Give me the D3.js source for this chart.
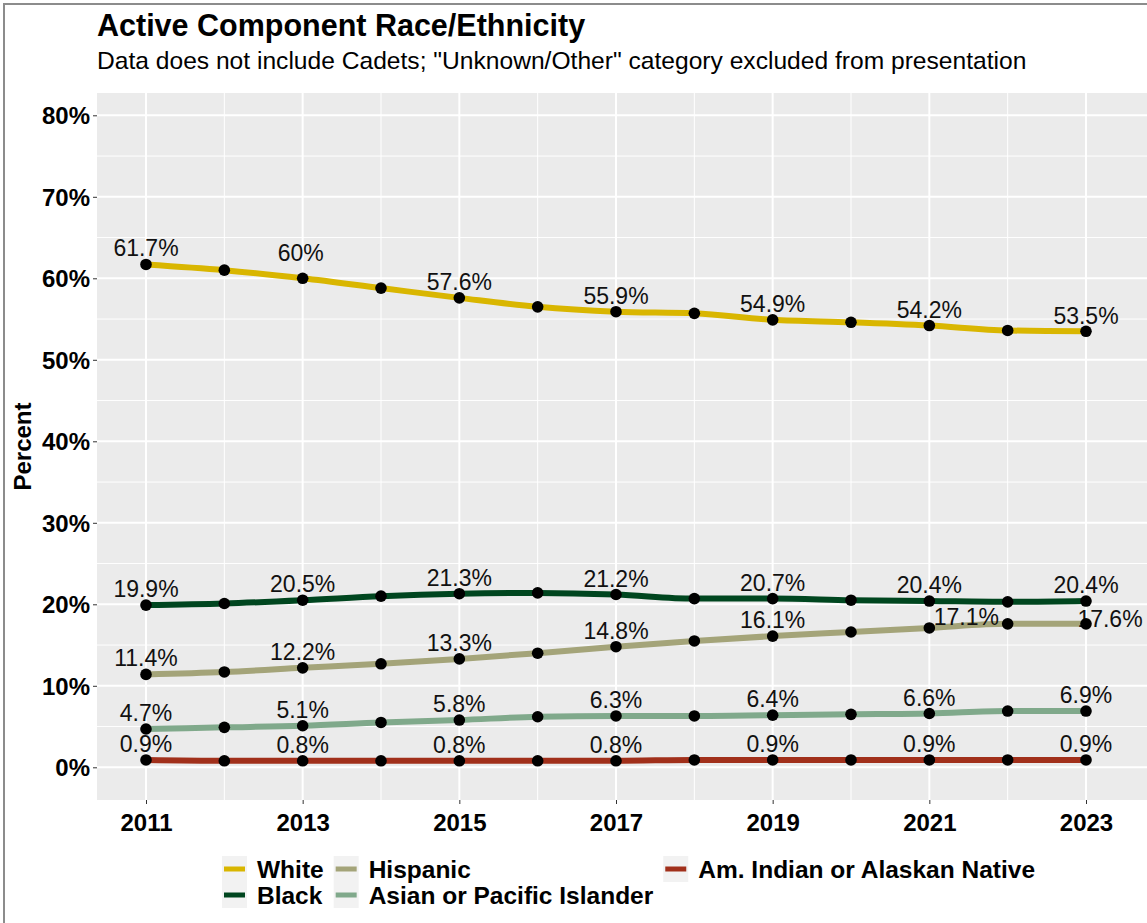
<!DOCTYPE html>
<head>
  <meta charset="utf-8">
  <title>Active Component Race/Ethnicity</title>
  <style>
    body { margin: 0; background: #ffffff; }
    text { font-family: "Liberation Sans", Arial, sans-serif; }
  </style>
</head>
<body>
  <div id="chart"></div>
  <script src="https://d3js.org/d3.v7.min.js"></script>
  <script>
    // data (percent)
    var years = [2011, 2012, 2013, 2014, 2015, 2016, 2017, 2018, 2019, 2020, 2021, 2022, 2023];
    var white    = [61.7, 61.0, 60.0, 58.8, 57.6, 56.5, 55.9, 55.7, 54.9, 54.6, 54.2, 53.6, 53.5];
    var black    = [19.9, 20.1, 20.5, 21.0, 21.3, 21.4, 21.2, 20.7, 20.7, 20.5, 20.4, 20.3, 20.4];
    var hispanic = [11.4, 11.7, 12.2, 12.7, 13.3, 14.0, 14.8, 15.5, 16.1, 16.6, 17.1, 17.6, 17.6];
    var asian    = [4.7, 4.9, 5.1, 5.5, 5.8, 6.2, 6.3, 6.3, 6.4, 6.5, 6.6, 6.9, 6.9];
    var aian     = [0.9, 0.8, 0.8, 0.8, 0.8, 0.8, 0.8, 0.9, 0.9, 0.9, 0.9, 0.9, 0.9];
    var labelYears = [2011, 2013, 2015, 2017, 2019, 2021, 2023];
    var yTicks = [0, 10, 20, 30, 40, 50, 60, 70, 80];
    var xTicks = [2011, 2013, 2015, 2017, 2019, 2021, 2023];

    var series = [
      { name: "White", values: white, color: "#d9b600" },
      { name: "Black", values: black, color: "#00461f" },
      { name: "Hispanic", values: hispanic, color: "#a4a479" },
      { name: "Asian or Pacific Islander", values: asian, color: "#80a98b" },
      { name: "Am. Indian or Alaskan Native", values: aian, color: "#a1301b" }
    ];

    // repelled labels (dx, dy in px from default spot)
    var labelNudge = {
      "White-2013": [-2, -9],
      "White-2023": [0, 1],
      "Hispanic-2021": [37, 5],
      "Hispanic-2023": [24, 11]
    };

    var width = 1147, height = 923;
    var panel = { left: 97, top: 93, right: 1147, bottom: 800 };

    var svg = d3.select("#chart").append("svg")
      .attr("width", width)
      .attr("height", height);

    // outer frame
    svg.append("rect")
      .attr("x", 4).attr("y", 4)
      .attr("width", width + 10).attr("height", height + 10)
      .attr("fill", "none")
      .attr("stroke", "#8c8c8c")
      .attr("stroke-width", 2);

    var x = d3.scaleLinear().domain([2011, 2023]).range([146, 1086]);
    var y = d3.scaleLinear().domain([0, 80]).range([767.3, 115.3]);

    svg.append("rect")
      .attr("x", panel.left).attr("y", panel.top)
      .attr("width", panel.right - panel.left)
      .attr("height", panel.bottom - panel.top)
      .attr("fill", "#ebebeb");

    var grid = svg.append("g").attr("stroke", "#ffffff");

    // minor grid
    grid.selectAll(".minor-y")
      .data(yTicks.map(function(d) { return d + 5; }).concat([-5]))
      .enter().append("line")
      .filter(function(d) { return y(d) > panel.top && y(d) < panel.bottom; })
      .attr("x1", panel.left).attr("x2", panel.right)
      .attr("y1", d => y(d)).attr("y2", d => y(d))
      .attr("stroke-width", 1);
    grid.selectAll(".minor-x")
      .data(years.filter(function(d) { return xTicks.indexOf(d) < 0; }))
      .enter().append("line")
      .attr("y1", panel.top).attr("y2", panel.bottom)
      .attr("x1", d => x(d)).attr("x2", d => x(d))
      .attr("stroke-width", 1);

    // major grid
    grid.selectAll(".major-y")
      .data(yTicks)
      .enter().append("line")
      .attr("x1", panel.left).attr("x2", panel.right)
      .attr("y1", d => y(d)).attr("y2", d => y(d))
      .attr("stroke-width", 2);
    grid.selectAll(".major-x")
      .data(xTicks)
      .enter().append("line")
      .attr("y1", panel.top).attr("y2", panel.bottom)
      .attr("x1", d => x(d)).attr("x2", d => x(d))
      .attr("stroke-width", 2);

    // axes
    var yAxis = d3.axisLeft(y)
      .tickValues(yTicks)
      .tickSize(4)
      .tickPadding(3)
      .tickFormat(d => d + "%");
    var gy = svg.append("g")
      .attr("transform", "translate(" + panel.left + ",0)")
      .call(yAxis);

    var xAxis = d3.axisBottom(x)
      .tickValues(xTicks)
      .tickSize(4)
      .tickPadding(5)
      .tickFormat(d3.format("d"));
    var gx = svg.append("g")
      .attr("transform", "translate(0," + panel.bottom + ")")
      .call(xAxis);

    [gx, gy].forEach(function(g) {
      g.select(".domain").remove();
      g.selectAll(".tick line").attr("stroke", "#333333");
      g.selectAll(".tick text")
        .attr("fill", "#000000")
        .style("font-family", "'Liberation Sans', Arial, sans-serif")
        .style("font-size", "24px")
        .style("font-weight", "bold");
    });
    gy.selectAll(".tick text").attr("dy", "0.36em");
    gx.selectAll(".tick text").attr("dy", "0.9em");

    // lines
    var line = d3.line()
      .x(function(d, i) { return x(years[i]); })
      .y(function(d) { return y(d); })
      .curve(d3.curveMonotoneX);

    svg.append("g").selectAll("path")
      .data(series)
      .enter().append("path")
      .attr("d", d => line(d.values))
      .attr("fill", "none")
      .attr("stroke", d => d.color)
      .attr("stroke-width", 6);

    // value labels (under the points, like the original)
    series.forEach(function(s) {
      var lab = labelYears.map(function(yr) {
        return { year: yr, value: s.values[years.indexOf(yr)] };
      });
      svg.append("g").selectAll("text")
        .data(lab)
        .enter().append("text")
        .attr("x", function(d) {
          var n = labelNudge[s.name + "-" + d.year];
          return x(d.year) + (n ? n[0] : 0);
        })
        .attr("y", function(d) {
          var n = labelNudge[s.name + "-" + d.year];
          return y(d.value) - 8 + (n ? n[1] : 0);
        })
        .attr("text-anchor", "middle")
        .style("font-size", "23px")
        .attr("fill", "#111111")
        .text(d => d3.format("")(d.value) + "%");
    });

    // points
    series.forEach(function(s) {
      svg.append("g").selectAll("circle")
        .data(s.values)
        .enter().append("circle")
        .attr("cx", (d, i) => x(years[i]))
        .attr("cy", d => y(d))
        .attr("r", 5.8)
        .attr("fill", "#000000");
    });

    // titles
    svg.append("text")
      .attr("x", panel.left).attr("y", 36)
      .style("font-size", "30.5px")
      .style("font-weight", "bold")
      .text("Active Component Race/Ethnicity");
    svg.append("text")
      .attr("x", panel.left).attr("y", 69)
      .style("font-size", "24.6px")
      .text("Data does not include Cadets; \"Unknown/Other\" category excluded from presentation");
    svg.append("text")
      .attr("transform", "translate(31," + ((panel.top + panel.bottom) / 2) + ") rotate(-90)")
      .attr("text-anchor", "middle")
      .style("font-size", "24px")
      .style("font-weight", "bold")
      .text("Percent");

    // legend: 2 rows, filled by column
    var legend = svg.append("g");
    var keyW = 25, keyH = 26, rowTop = 856;
    var cols = [[series[0], series[1]], [series[2], series[3]], [series[4]]];
    var cx = 0;
    cols.forEach(function(col) {
      var g = legend.append("g").attr("transform", "translate(" + cx + ",0)");
      g.append("rect")
        .attr("x", 0).attr("y", rowTop)
        .attr("width", keyW).attr("height", keyH * col.length)
        .attr("fill", "#f2f2f2");
      var maxW = 0;
      col.forEach(function(s, r) {
        g.append("line")
          .attr("x1", 2).attr("x2", keyW - 2)
          .attr("y1", rowTop + keyH * r + keyH / 2)
          .attr("y2", rowTop + keyH * r + keyH / 2)
          .attr("stroke", s.color)
          .attr("stroke-width", 5);
        var t = g.append("text")
          .attr("x", keyW + 10)
          .attr("y", rowTop + keyH * r + 22)
          .style("font-size", "24.5px")
          .style("font-weight", "bold")
          .text(s.name);
        maxW = Math.max(maxW, t.node().getComputedTextLength());
      });
      cx += keyW + 10 + maxW + 10;
    });
    var legW = cx - 10;
    legend.attr("transform", "translate(" + (628.5 - legW / 2) + ",0)");
  </script>
</body>
